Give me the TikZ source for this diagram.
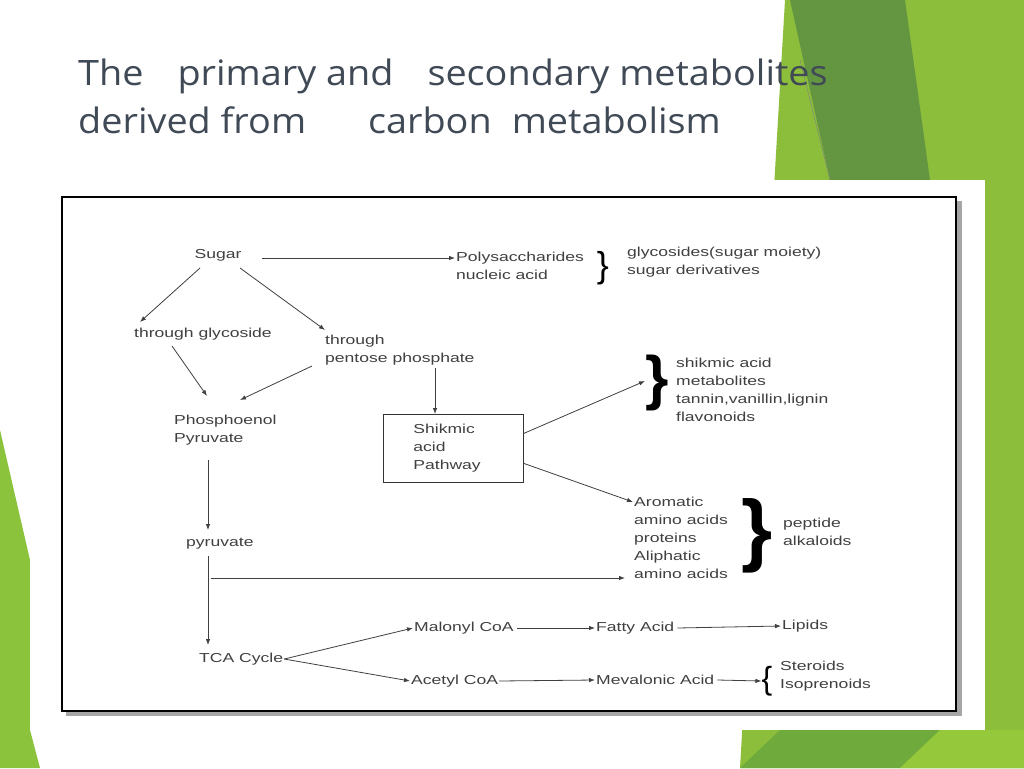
\documentclass[tikz,border=0pt]{standalone}
\usepackage{fontspec}
\setmainfont{Liberation Sans}
\newfontfamily\titlefont[FakeStretch=1.08]{Open Sans}
\newfontfamily\dfont[FakeStretch=1.35]{Liberation Sans}
\usetikzlibrary{arrows.meta}
\begin{document}
\begin{tikzpicture}[x=1pt,y=-1pt,
  lbl/.style={font=\dfont\fontsize{13}{18}\selectfont,text=black!75,align=left,inner sep=1pt},
  arr/.style={-{Latex[length=6pt,width=4.5pt]},black!75,line width=0.8pt},
  brc/.style={font=\fontsize{#1}{#1}\selectfont,text=black,inner sep=0pt}]
\useasboundingbox (0,0) rectangle (1024,768);
\fill[white] (0,0) rectangle (1024,768);
% green decorations
\fill[color={rgb,255:red,140;green,190;blue,60}] (785,0) -- (1024,0) -- (1024,768) -- (740,768) -- cycle;
\fill[color={rgb,255:red,100;green,150;blue,65}] (790,0) -- (905,0) -- (930,180) -- (830,180) -- cycle;
\fill[color={rgb,255:red,110;green,170;blue,60}] (740,768) -- (780,730) -- (1024,730) -- (1024,768) -- cycle;
\fill[color={rgb,255:red,150;green,200;blue,60}] (900,768) -- (940,730) -- (1024,730) -- (1024,768) -- cycle;
\fill[color={rgb,255:red,140;green,195;blue,60}] (0,430) -- (30,560) -- (30,730) -- (40,768) -- (0,768) -- cycle;
\draw[black!50,line width=0.4pt] (800,60) -- (830,180);
% card
\fill[white] (30,180) rectangle (985,730);
\fill[black!35] (66,201) rectangle (962,716);
\draw[black,line width=2.5pt,fill=white] (62,197) rectangle (956,711);
% title
\node[anchor=west,font=\titlefont\fontsize{35}{48}\selectfont,text={rgb,255:red,64;green,74;blue,86},align=left,inner sep=0pt] (title) at (78,96)
  {The\hspace{34pt}primary and\hspace{34pt}secondary metabolites\\derived from\hspace{62pt}carbon\hspace{20pt}metabolism};
% nodes
\node[lbl] (sugar) at (218,255) {Sugar};
\node[lbl,anchor=west] (poly) at (455,266) {Polysaccharides\\nucleic acid};
\node[brc=36] (br1) at (603,268) {\}};
\node[lbl,anchor=west] (glyc) at (626,262) {glycosides(sugar moiety)\\sugar derivatives};
\node[lbl,anchor=west] (thg) at (133,334) {through glycoside};
\node[lbl,anchor=west] (thp) at (324,350) {through\\pentose phosphate};
\node[lbl,anchor=west] (pep) at (173,430) {Phosphoenol\\Pyruvate};
\node[lbl,anchor=north west,draw=black!80,line width=0.8pt,minimum width=140pt,minimum height=68pt,text width=80pt,inner sep=5pt] (shik) at (383,414) {Shikmic\\acid\\Pathway};
\node[font=\bfseries\fontsize{60}{60}\selectfont,inner sep=0pt] (br2) at (657,383) {\}};
\node[lbl,anchor=west] (shm) at (675,390) {shikmic acid\\metabolites\\tannin,vanillin,lignin\\flavonoids};
\node[lbl,anchor=west] (pyr) at (185,544) {pyruvate};
\node[lbl,anchor=west] (arom) at (633,538) {Aromatic\\amino acids\\proteins\\Aliphatic\\amino acids};
\node[font=\bfseries\fontsize{80}{80}\selectfont,inner sep=0pt] (br3) at (757,536) {\}};
\node[lbl,anchor=west] (pept) at (782,532) {peptide\\alkaloids};
\node[lbl,anchor=west] (tca) at (198,659) {TCA Cycle};
\node[lbl,anchor=west] (mal) at (413,628) {Malonyl CoA};
\node[lbl,anchor=west] (fat) at (595,628) {Fatty Acid};
\node[lbl,anchor=west] (lip) at (781,626) {Lipids};
\node[lbl,anchor=west] (ace) at (410,681) {Acetyl CoA};
\node[lbl,anchor=west] (mev) at (595,680) {Mevalonic Acid};
\node[brc=32] (br4) at (767,681) {\{};
\node[lbl,anchor=west] (ster) at (779,676) {Steroids\\Isoprenoids};
\coordinate (pyrline) at (211,578);
% connectors
\draw[arr] (262,258) -- (poly.west |- 0,258);
\draw[arr] (200,268) -- (140,322);
\draw[arr] (240,268) -- (325,330);
\draw[arr] (172,346) -- (207,396);
\draw[arr] (312,366) -- (240,400);
\draw[arr] (435,368) -- (shik.north -| 435,0);
\draw[arr] (shik.east) ++(0,-15) -- (645,381);
\draw[arr] (shik.east) ++(0,15) -- (arom.west |- 0,502);
\draw[arr] (208,460) -- (208,530);
\draw[arr] (208,556) -- (208,645);
\draw[arr] (pyrline) -- (625,578);
\draw[arr] (tca.east) -- (mal.west);
\draw[arr] (tca.east) -- (ace.west);
\draw[arr] (mal.east) ++(2,0) -- (fat.west);
\draw[arr] (fat.east) ++(2,0) -- (lip.west);
\draw[arr] (ace.east) -- (mev.west);
\draw[arr] (mev.east) ++(2,0) -- (br4.west);
\end{tikzpicture}
\end{document}
